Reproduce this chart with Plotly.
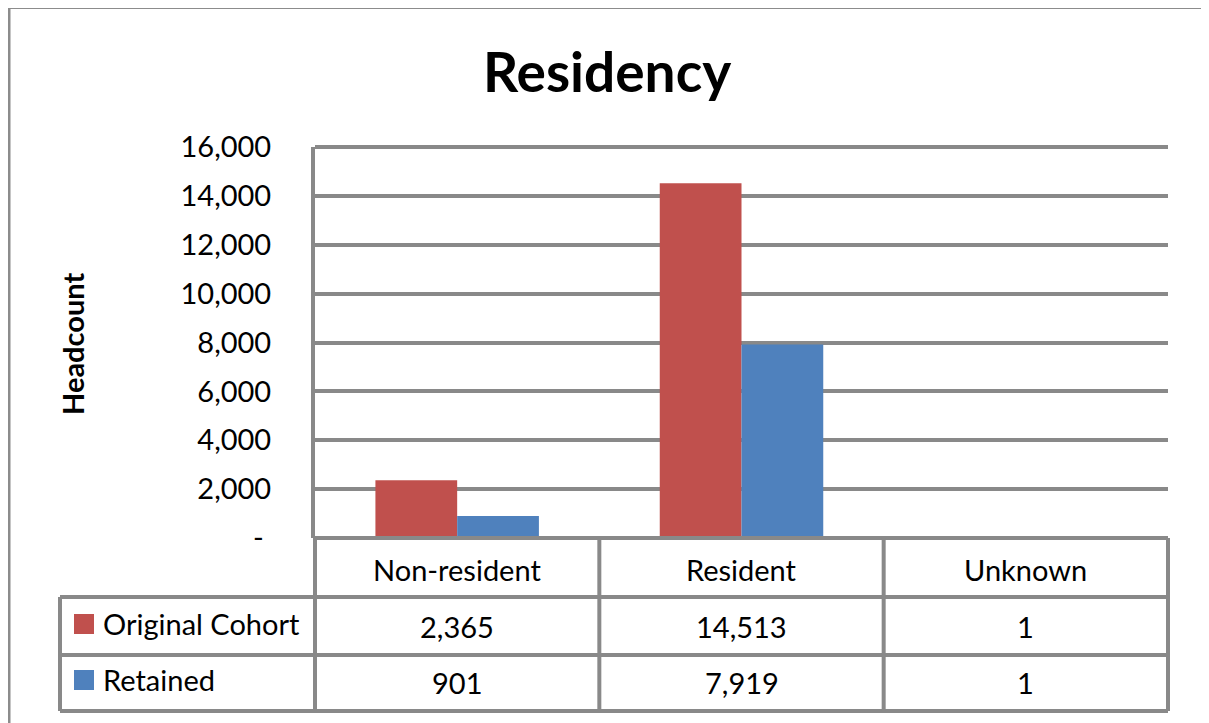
import plotly.graph_objects as go

categories = ["Non-resident", "Resident", "Unknown"]
series_names = ["Original Cohort", "Retained"]
original_cohort = [2365, 14513, 1]
retained = [901, 7919, 1]
series_values = [original_cohort, retained]
series_colors = ["#C0504D", "#4F81BD"]
y_tickvals = [0, 2000, 4000, 6000, 8000, 10000, 12000, 14000, 16000]
y_ticktext = ["-\u00a0", "2,000", "4,000", "6,000", "8,000", "10,000", "12,000", "14,000", "16,000"]

OFF = 8  # page body margin
W, H = 1209 - OFF, 723 - OFF
# plot area in page pixels
L, R, T, B = 315, 1168, 147, 538
FONT = "Lato"
GRID = "#898989"
LW = 4


def px(x):
    return (x - L) / (R - L)


def py(y):
    return (B - y) / (B - T)


fig = go.Figure()
for name, vals, col in zip(series_names, series_values, series_colors):
    fig.add_trace(go.Bar(x=categories, y=vals, name=name, marker_color=col,
                         marker_line_width=0, showlegend=False))

shapes = []
line = dict(color=GRID, width=LW)
# x axis line (drawn above bars) and top gridline
shapes.append(dict(type="line", xref="paper", yref="paper", x0=0, x1=1, y0=0, y1=0, line=line))
shapes.append(dict(type="line", xref="paper", yref="paper", x0=0, x1=1, y0=1, y1=1, line=line))
# table horizontal lines
for yy in [597, 655, 711]:
    shapes.append(dict(type="line", xref="paper", yref="paper", x0=px(60), x1=1, y0=py(yy), y1=py(yy), line=line))
# table vertical lines (category boundaries)
n = len(categories)
for i in range(n + 1):
    xx = i / n
    shapes.append(dict(type="line", xref="paper", yref="paper", x0=xx, x1=xx, y0=0, y1=py(711), line=line))
shapes.append(dict(type="line", xref="paper", yref="paper", x0=px(60), x1=px(60), y0=py(597), y1=py(711), line=line))
# outer frame
fl = dict(color="#8C8C8C", width=3)
shapes.append(dict(type="line", xref="paper", yref="paper", x0=px(9), x1=px(9), y0=py(7.5), y1=py(740), line=fl))
shapes.append(dict(type="line", xref="paper", yref="paper", x0=px(1206), x1=px(1206), y0=py(7.5), y1=py(740), line=fl))
shapes.append(dict(type="line", xref="paper", yref="paper", x0=px(9), x1=px(1206), y0=py(7.5), y1=py(7.5), line=fl))

annotations = []
tf = dict(family=FONT, size=29, color="black")
row_y = [626, 682]
for j, cat in enumerate(categories):
    cx = (j + 0.5) / n
    annotations.append(dict(x=cx, y=py(569), xref="paper", yref="paper", text=cat, showarrow=False,
                            font=tf, xanchor="center", yanchor="middle"))
    for k, vals in enumerate(series_values):
        annotations.append(dict(x=cx, y=py(row_y[k]), xref="paper", yref="paper", text=f"{vals[j]:,}",
                                showarrow=False, font=tf, xanchor="center", yanchor="middle"))
for k, (name, col) in enumerate(zip(series_names, series_colors)):
    cy = row_y[k] - 2
    shapes.append(dict(type="rect", xref="paper", yref="paper", x0=px(74), x1=px(94),
                       y0=py(cy - 10), y1=py(cy + 10), fillcolor=col, line_width=0))
    annotations.append(dict(x=px(101), y=py(row_y[k] - 3), xref="paper", yref="paper", text=name, showarrow=False,
                            font=tf, xanchor="left", yanchor="middle"))

annotations.append(dict(x=px(607), y=py(71), xref="paper", yref="paper", text="<b>Residency</b>",
                        showarrow=False, font=dict(family=FONT, size=55, color="black"),
                        xanchor="center", yanchor="middle"))
annotations.append(dict(x=px(72), y=py(344), xref="paper", yref="paper", text="<b>Headcount</b>",
                        showarrow=False, textangle=-90, font=dict(family=FONT, size=29, color="black"),
                        xanchor="center", yanchor="middle"))

fig.update_layout(
    width=W, height=H, autosize=False,
    margin=dict(l=L - OFF, r=(W + OFF) - R, t=T - OFF, b=(H + OFF) - B, pad=0),
    paper_bgcolor="white", plot_bgcolor="white",
    barmode="group", bargap=0.425, bargroupgap=0,
    shapes=shapes, annotations=annotations,
    font=dict(family=FONT, size=29, color="black"),
)
fig.update_xaxes(range=[-0.5, 2.5], showticklabels=False, showgrid=False, zeroline=False,
                 showline=False, ticks="")
fig.update_yaxes(range=[0, 16000], tickvals=y_tickvals, ticktext=y_ticktext, showgrid=True,
                 gridcolor=GRID, gridwidth=LW, zeroline=False, showline=True, linecolor=GRID,
                 linewidth=LW, ticks="", ticklabelstandoff=34,
                 tickfont=dict(family=FONT, size=29, color="black"))

fig.write_html("out.html")
